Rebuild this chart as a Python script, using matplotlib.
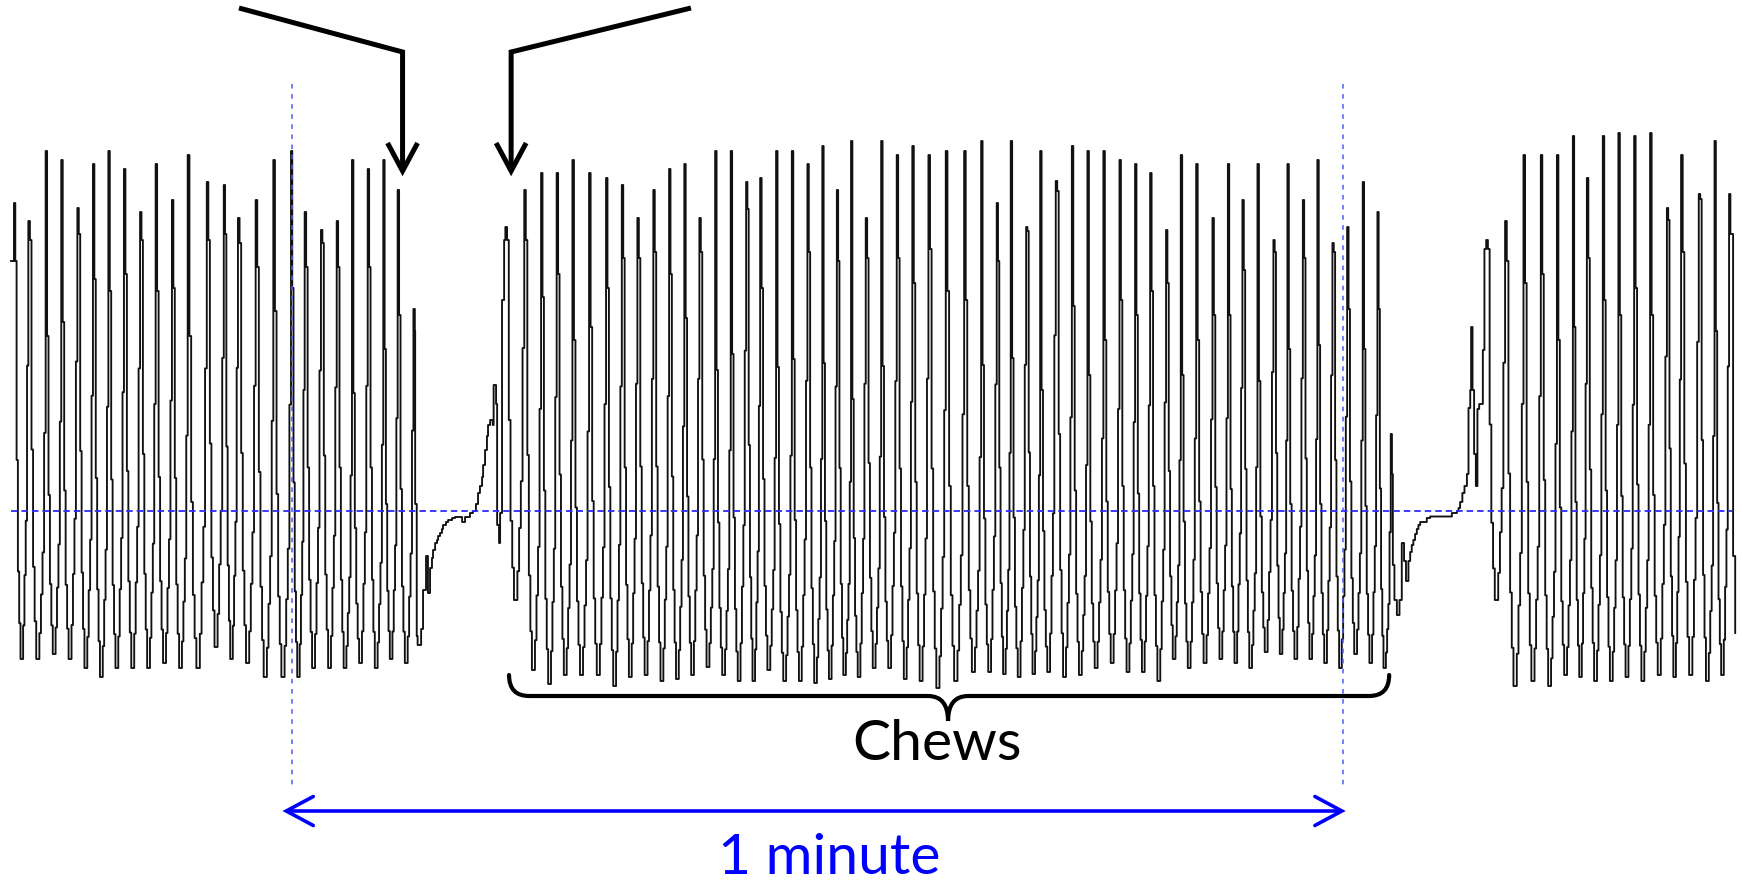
import matplotlib
matplotlib.use("Agg")
import matplotlib.pyplot as plt
from matplotlib.path import Path
from matplotlib.patches import PathPatch

# ---------------- data (time in s, amplitude in arbitrary units) ----------------
# Burst 1 (before the first pause)
BURST1_T = [0.17, 0.99, 1.98, 2.87, 3.79, 4.68, 5.56, 6.45, 7.37, 8.26, 9.19, 10.09, 11.18,
            12.15, 12.96, 13.97, 14.98, 15.99, 16.77, 17.70, 18.60, 19.47, 20.37, 21.26, 22.08, 22.98]
BURST1_PEAK = [30.8, 29.0, 36.0, 35.1, 30.3, 34.7, 36.0, 34.2, 29.9, 34.7, 31.1, 35.6, 32.9,
               32.6, 29.3, 31.1, 35.1, 36.0, 29.9, 28.1, 29.0, 35.1, 34.2, 35.1, 32.1, 20.2]
BURST1_SHOULDER = [25.0, 27.1, 17.5, 18.9, 27.7, 23.2, 22.0, 23.7, 27.1, 22.0, 22.3, 17.5, 27.1,
                   27.7, 26.8, 24.4, 20.0, 22.3, 24.4, 26.8, 24.4, 11.8, 24.4, 16.2, 19.6, 18.0]
BURST1_TROUGH = [-14.8, -14.8, -14.3, -14.8, -15.7, -16.6, -15.7, -15.7, -15.7, -15.2, -15.7, -15.7,
                 -13.6, -14.8, -15.2, -16.6, -16.6, -16.6, -15.7, -15.7, -15.7, -15.2, -15.7, -14.8, -15.2]

# Pause 1 (jaw at rest)
PAUSE1_T = [23.08, 23.17, 23.22, 23.42, 23.53, 23.70, 23.81, 23.93, 24.04, 24.10,
            24.22, 24.33, 24.39, 24.50, 24.61, 24.67, 24.84, 24.96, 25.19, 25.36,
            25.76, 25.93, 26.21, 26.38, 26.55, 26.67, 26.78, 26.90, 26.96, 27.07,
            27.18, 27.24, 27.36, 27.51, 27.56, 27.70, 27.76, 27.87, 27.93, 28.04, 28.16]
PAUSE1_A = [0.7, -12.5, -13.4, -11.8, -7.9, -4.5, -8.2, -5.7, -4.7, -3.9,
            -3.2, -2.9, -2.5, -2.2, -1.8, -1.4, -1.1, -0.9, -0.7, -0.6,
            -1.1, -0.6, -0.2, 0.0, 0.7, 1.8, 2.5, 3.4, 4.6, 6.1,
            7.5, 8.6, 9.1, 8.6, 12.6, 10.7, -1.4, -3.2, -0.2, 21.1, 27.1]

# Burst 2 (chews)
BURST2_T = [28.23, 29.31, 30.27, 31.16, 32.06, 33.01, 33.98, 34.88, 35.77, 36.68,
            37.58, 38.45, 39.31, 40.21, 41.10, 41.98, 42.78, 43.69, 44.59, 45.48,
            46.33, 47.16, 47.97, 48.81, 49.69, 50.58, 51.47, 52.39, 53.38, 54.43,
            55.40, 56.29, 57.09, 57.97, 58.77, 59.66, 60.58, 61.47, 62.38, 63.30,
            64.19, 65.05, 65.96, 66.80, 67.68, 68.61, 69.49, 70.32, 71.18, 72.09,
            72.89, 73.77, 74.60, 75.46, 76.30, 77.19, 78.03, 78.79]
BURST2_PEAK = [28.4, 32.1, 33.8, 33.8, 35.1, 33.8, 33.3, 32.6, 29.3, 32.1,
               34.2, 34.7, 29.3, 36.0, 36.0, 32.9, 33.3, 36.0, 36.0, 34.7,
               36.5, 32.1, 37.0, 29.3, 37.0, 35.6, 36.5, 35.6, 36.0, 36.0,
               37.0, 30.8, 37.0, 28.4, 36.0, 33.0, 36.5, 36.0, 36.0, 35.1,
               34.7, 33.8, 28.1, 35.6, 34.7, 29.3, 34.7, 31.1, 34.7, 27.1,
               34.7, 31.1, 35.1, 26.8, 28.4, 32.9, 29.9, 7.7]
BURST2_SHOULDER = [27.1, 27.1, 21.4, 23.7, 17.1, 18.4, 22.3, 25.3, 25.3, 25.9,
                   23.7, 19.3, 25.9, 14.1, 15.7, 30.2, 22.3, 14.4, 15.2, 25.9,
                   14.8, 25.0, 11.2, 25.3, 14.5, 25.3, 22.8, 26.2, 22.0, 21.1,
                   14.6, 25.0, 15.3, 28.0, 12.1, 32.0, 20.5, 13.6, 17.1, 21.1,
                   19.6, 22.0, 22.8, 13.6, 17.1, 19.6, 19.6, 24.1, 13.0, 25.9,
                   16.2, 25.3, 16.6, 25.9, 20.2, 16.2, 20.2, 3.7]
BURST2_TROUGH = [-8.9, -15.9, -17.3, -16.4, -16.4, -16.4, -17.5, -16.6, -16.4, -17.0,
                 -16.8, -16.4, -15.6, -16.4, -17.0, -17.0, -15.9, -17.0, -17.0, -17.2,
                 -16.8, -16.4, -16.6, -15.7, -15.7, -16.8, -17.0, -17.7, -17.0, -16.1,
                 -16.1, -16.3, -16.6, -16.3, -16.1, -16.6, -16.4, -15.7, -15.2, -16.1,
                 -16.1, -17.0, -14.8, -15.7, -15.2, -14.8, -15.2, -15.7, -14.1, -14.3,
                 -14.8, -14.8, -15.2, -15.7, -14.3, -15.2, -15.7]

# Pause 2
PAUSE2_T = [78.91, 79.00, 79.14, 79.29, 79.42, 79.55, 79.66, 79.80, 79.90, 79.99,
            80.08, 80.18, 80.28, 80.37, 80.47, 80.85, 81.04, 82.28, 82.57, 82.66,
            82.75, 82.88, 83.00, 83.14, 83.23, 83.33, 83.38, 83.46, 83.55, 83.65,
            83.74, 83.84, 84.05, 84.14]
PAUSE2_A = [-5.4, -8.9, -10.4, -8.9, -3.2, -5.0, -7.0, -5.0, -4.1, -3.4,
            -2.9, -2.3, -1.8, -1.4, -1.1, -0.7, -0.55, -0.2, 0.0, 0.3,
            0.9, 1.8, 2.5, 3.7, 10.3, 12.1, 18.4, 12.1, 5.7, 2.5,
            10.2, 10.7, 16.1, 26.2]

# Burst 3
BURST3_T = [84.24, 85.32, 86.37, 87.36, 88.28, 89.19, 89.99, 90.90, 91.79, 92.69,
            93.60, 94.56, 95.37, 96.38, 97.28, 98.11]
BURST3_PEAK = [27.1, 29.0, 35.6, 35.6, 35.6, 37.5, 33.3, 37.5, 37.8, 37.5,
               37.8, 30.3, 35.6, 31.7, 37.0, 31.7]
BURST3_SHOULDER = [26.2, 25.0, 22.8, 23.7, 17.1, 18.4, 25.3, 21.1, 19.6, 22.3,
                   19.6, 29.1, 25.9, 31.2, 18.0, 27.7]
BURST3_TROUGH = [-8.9, -17.5, -17.0, -17.5, -16.4, -16.6, -17.0, -17.0, -16.6, -17.0,
                 -16.4, -16.6, -16.4, -17.0, -16.4]

TAIL_T = [98.34, 98.46]
TAIL_A = [-4.5, -12.2]

# step profile of one chewing cycle (fraction between trough and shoulder)
CYCLE_FALL = [1.0, 0.5, 0.22, 0.09, 0.0, 0.0]
CYCLE_RISE = [0.08, 0.2, 0.33, 0.7]

TRACE_START = 0.0
MINUTE_START, MINUTE_END = 16.05, 76.05

# ---------------- build trace ----------------
def burst(times, peaks, shoulders, troughs):
    ts, vs = [], []
    nsamp = 1 + len(CYCLE_FALL) + len(CYCLE_RISE)
    n = len(times)
    dt = 0.08
    for i in range(n):
        t0 = times[i]
        ts.append(t0); vs.append(peaks[i])
        if i == n - 1:
            ts.append(t0 + dt); vs.append(shoulders[i])
            break
        dt = (times[i + 1] - t0) / nsamp
        T = troughs[i]
        k = 1
        for f in CYCLE_FALL:
            ts.append(t0 + k * dt); vs.append(T + f * (shoulders[i] - T)); k += 1
        for f in CYCLE_RISE:
            ts.append(t0 + k * dt); vs.append(T + f * (shoulders[i + 1] - T)); k += 1
    return ts, vs

t_all = [TRACE_START]
a_all = [BURST1_SHOULDER[0]]
for part in (burst(BURST1_T, BURST1_PEAK, BURST1_SHOULDER, BURST1_TROUGH),
             (PAUSE1_T, PAUSE1_A),
             burst(BURST2_T, BURST2_PEAK, BURST2_SHOULDER, BURST2_TROUGH),
             (PAUSE2_T, PAUSE2_A),
             burst(BURST3_T, BURST3_PEAK, BURST3_SHOULDER, BURST3_TROUGH),
             (TAIL_T, TAIL_A)):
    t_all += list(part[0]); a_all += list(part[1])

# ---------------- figure ----------------
PX_T = 60.0 / 1050.7   # seconds per pixel
PX_A = 0.1             # amplitude units per pixel

fig = plt.figure(figsize=(17.42, 8.87), dpi=100)
ax = fig.add_axes([0, 0, 1, 1])
ax.set_xlim(-11 * PX_T, 1731 * PX_T)
ax.set_ylim(-37.5, 51.2)
ax.axis("off")

ax.plot(t_all, a_all, drawstyle="steps-post", color="#111111", lw=1.35, zorder=2)

# baseline
ax.plot([TRACE_START, 98.3], [0, 0], color="#2b2bff", lw=1.3, dashes=(3.6, 2.2), zorder=3)
# minute markers
for m in (MINUTE_START, MINUTE_END):
    ax.plot([m, m], [42.7, -27.6], color="#4a5cff", lw=1.1, dashes=(3.0, 3.6), zorder=3)

# 1-minute double arrow
ya = -30.0
ax.plot([MINUTE_START - 0.3, MINUTE_END - 0.05], [ya, ya], color="#0000ff", lw=2.6,
        solid_capstyle="butt", zorder=4)
for tip, s in ((MINUTE_START - 0.33, 1), (MINUTE_END - 0.05, -1)):
    ax.plot([tip + s * 27 * PX_T, tip, tip + s * 27 * PX_T], [ya + 1.45, ya, ya - 1.45],
            color="#0000ff", lw=2.6, solid_capstyle="round", solid_joinstyle="miter", zorder=4)
ax.text((MINUTE_START + MINUTE_END) / 2 + 0.65, -36.2, "1 minute", color="#0000ff",
        fontsize=41, family="Lato", ha="center", va="baseline")

# brace under the chews
bx0, bx1, btip = 28.44, 78.70, 53.51
yt, yh, yb = -16.4, -18.5, -21.0
r = 1.15
verts = [(bx0, yt), (bx0, yh), (bx0 + r, yh), (btip - r, yh), (btip, yh), (btip, yb),
         (btip, yh), (btip + r, yh), (bx1 - r, yh), (bx1, yh), (bx1, yt)]
codes = [Path.MOVETO, Path.CURVE3, Path.CURVE3, Path.LINETO, Path.CURVE3, Path.CURVE3,
         Path.CURVE3, Path.CURVE3, Path.LINETO, Path.CURVE3, Path.CURVE3]
ax.add_patch(PathPatch(Path(verts, codes), fill=False, lw=3.0, color="black",
                       capstyle="round", zorder=4))
ax.text(52.9, -24.8, "Chews", color="black", fontsize=41, family="Lato",
        ha="center", va="baseline")

# annotation arrows from the top
for (x0, y0), (xc, yc), ytip in (((13.02, 50.3), (22.36, 45.9), 34.0),
                                  ((38.83, 50.3), (28.56, 45.9), 34.0)):
    ax.plot([x0, xc, xc], [y0, yc, ytip], color="black", lw=3.6,
            solid_joinstyle="miter", solid_capstyle="butt", zorder=5)
    ax.plot([xc - 15 * PX_T, xc, xc + 15 * PX_T], [ytip + 2.8, ytip, ytip + 2.8],
            color="black", lw=3.6, solid_joinstyle="miter", solid_capstyle="butt", zorder=5)

fig.savefig("out.png", dpi=100)
